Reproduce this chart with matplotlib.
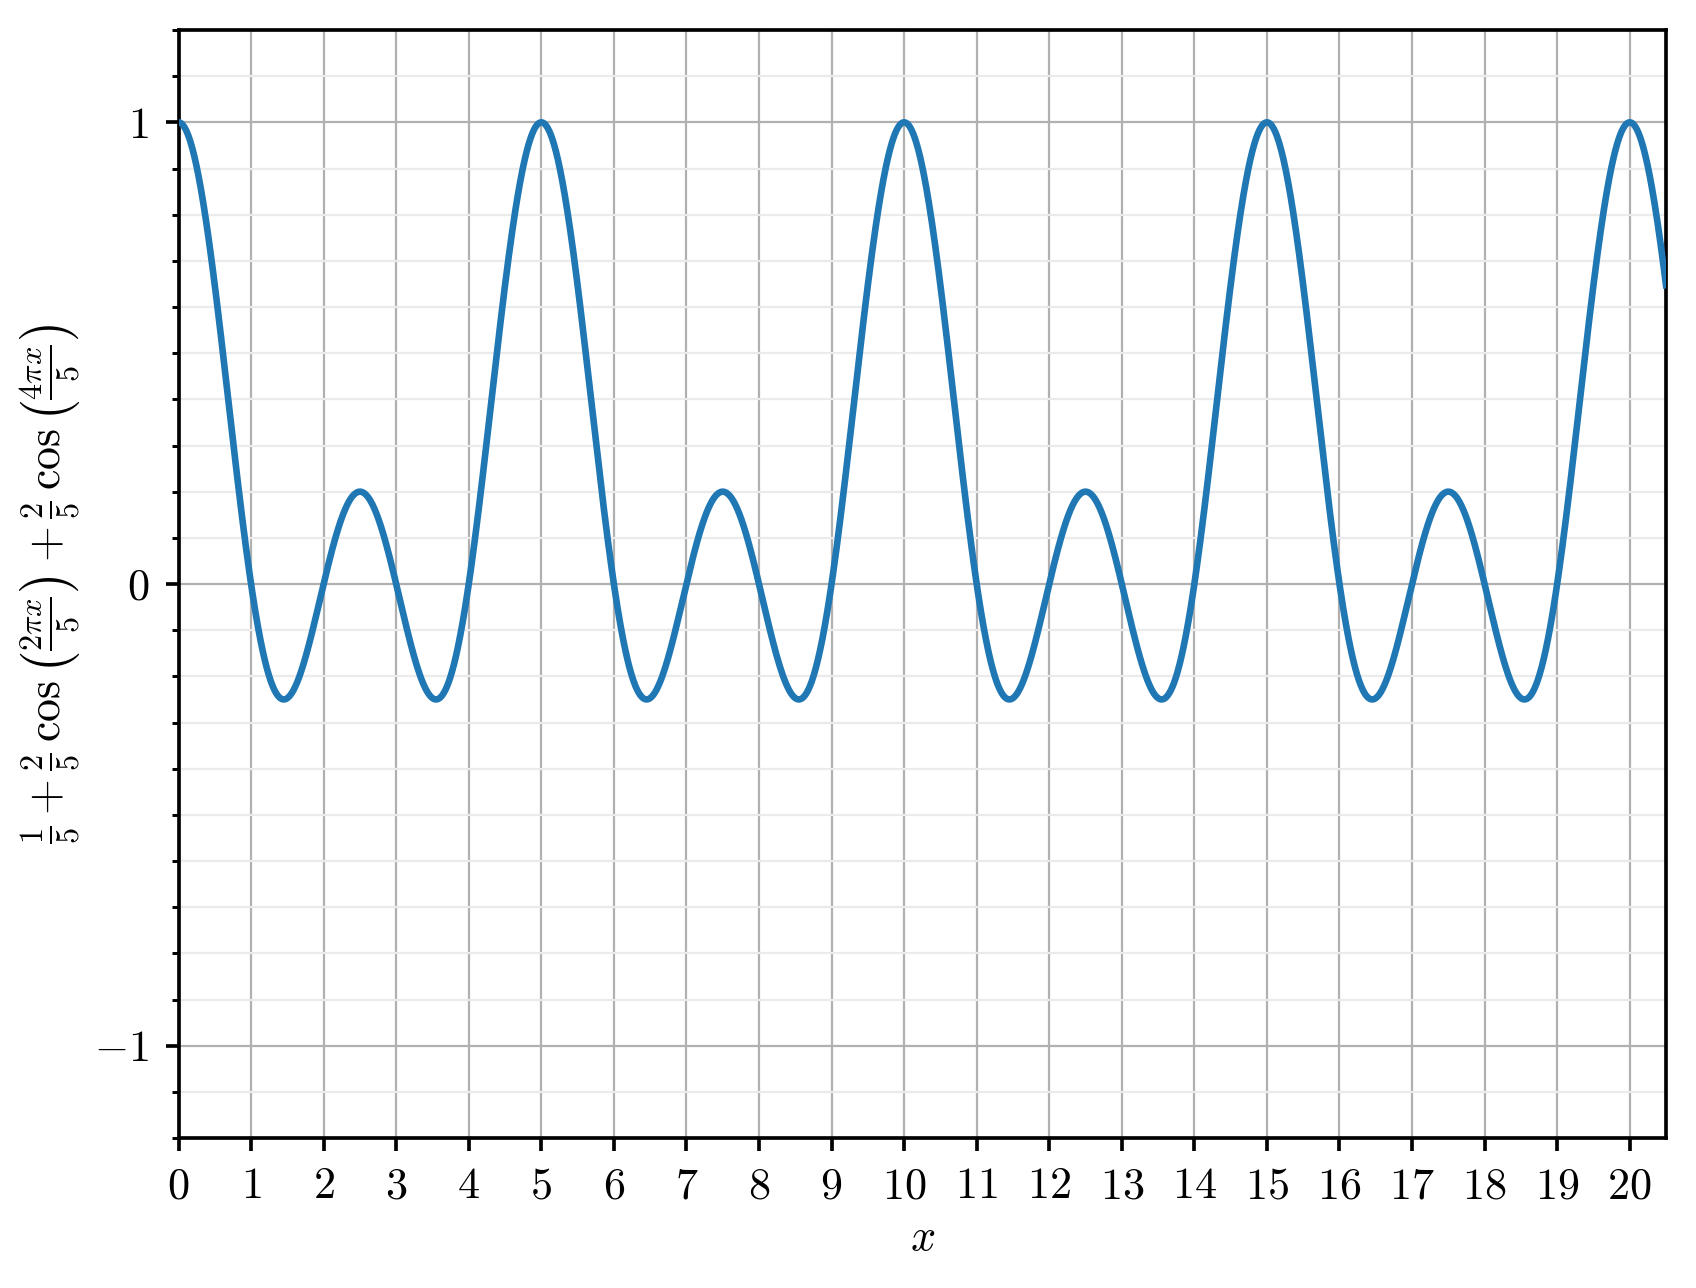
import numpy as np
import matplotlib.pyplot as plt
from matplotlib.ticker import MultipleLocator, FixedLocator, FixedFormatter

plt.rcParams['mathtext.fontset'] = 'cm'
plt.rcParams['font.family'] = 'serif'
plt.rcParams['font.serif'] = ['cmr10', 'DejaVu Serif']
plt.rcParams['axes.unicode_minus'] = False

# terms of the plotted function (from the axis label): a_k * cos(w_k x)
amplitudes = [1/5, 2/5, 2/5]
omegas = [0.0, 2*np.pi/5, 4*np.pi/5]

x_ticks = list(range(0, 21))
x_ticklabels = ["$%d$" % t for t in x_ticks]
y_ticks = [-1, 0, 1]
y_ticklabels = ["$-1$", "$0$", "$1$"]

x = np.linspace(0, 20.5, 3000)
y = sum(a*np.cos(w*x) for a, w in zip(amplitudes, omegas))

fig = plt.figure(figsize=(1696/265, 1288/265), dpi=265)
ax = fig.add_axes([178.5/1696, 1-1138/1288, (1666-178.5)/1696, (1138-30)/1288])

ax.plot(x, y, color="#1f77b4", lw=1.8, zorder=3)

ax.set_xlim(0, 20.5)
ax.set_ylim(-1.2, 1.2)
ax.xaxis.set_major_locator(FixedLocator(x_ticks))
ax.xaxis.set_major_formatter(FixedFormatter(x_ticklabels))
ax.yaxis.set_major_locator(FixedLocator(y_ticks))
ax.yaxis.set_major_formatter(FixedFormatter(y_ticklabels))
ax.yaxis.set_minor_locator(MultipleLocator(0.1))

ax.grid(True, which="major", color="#b0b0b0", lw=0.6)
ax.grid(True, which="minor", axis="y", color="#ebebeb", lw=0.6)
ax.set_axisbelow(True)

for s in ax.spines.values():
    s.set_linewidth(1.0)
ax.tick_params(which="major", length=3.5, width=1.0, labelsize=12, pad=4.5)
ax.tick_params(which="minor", length=2.0, width=0.8)

ax.set_xlabel("$x$", fontsize=12, labelpad=3)
ax.set_ylabel(r"$\frac{1}{5} + \frac{2}{5}\,\cos\left(\frac{2\pi x}{5}\right) + \frac{2}{5}\,\cos\left(\frac{4\pi x}{5}\right)$", fontsize=12.5, labelpad=3)

fig.savefig("out.png", dpi=265)
